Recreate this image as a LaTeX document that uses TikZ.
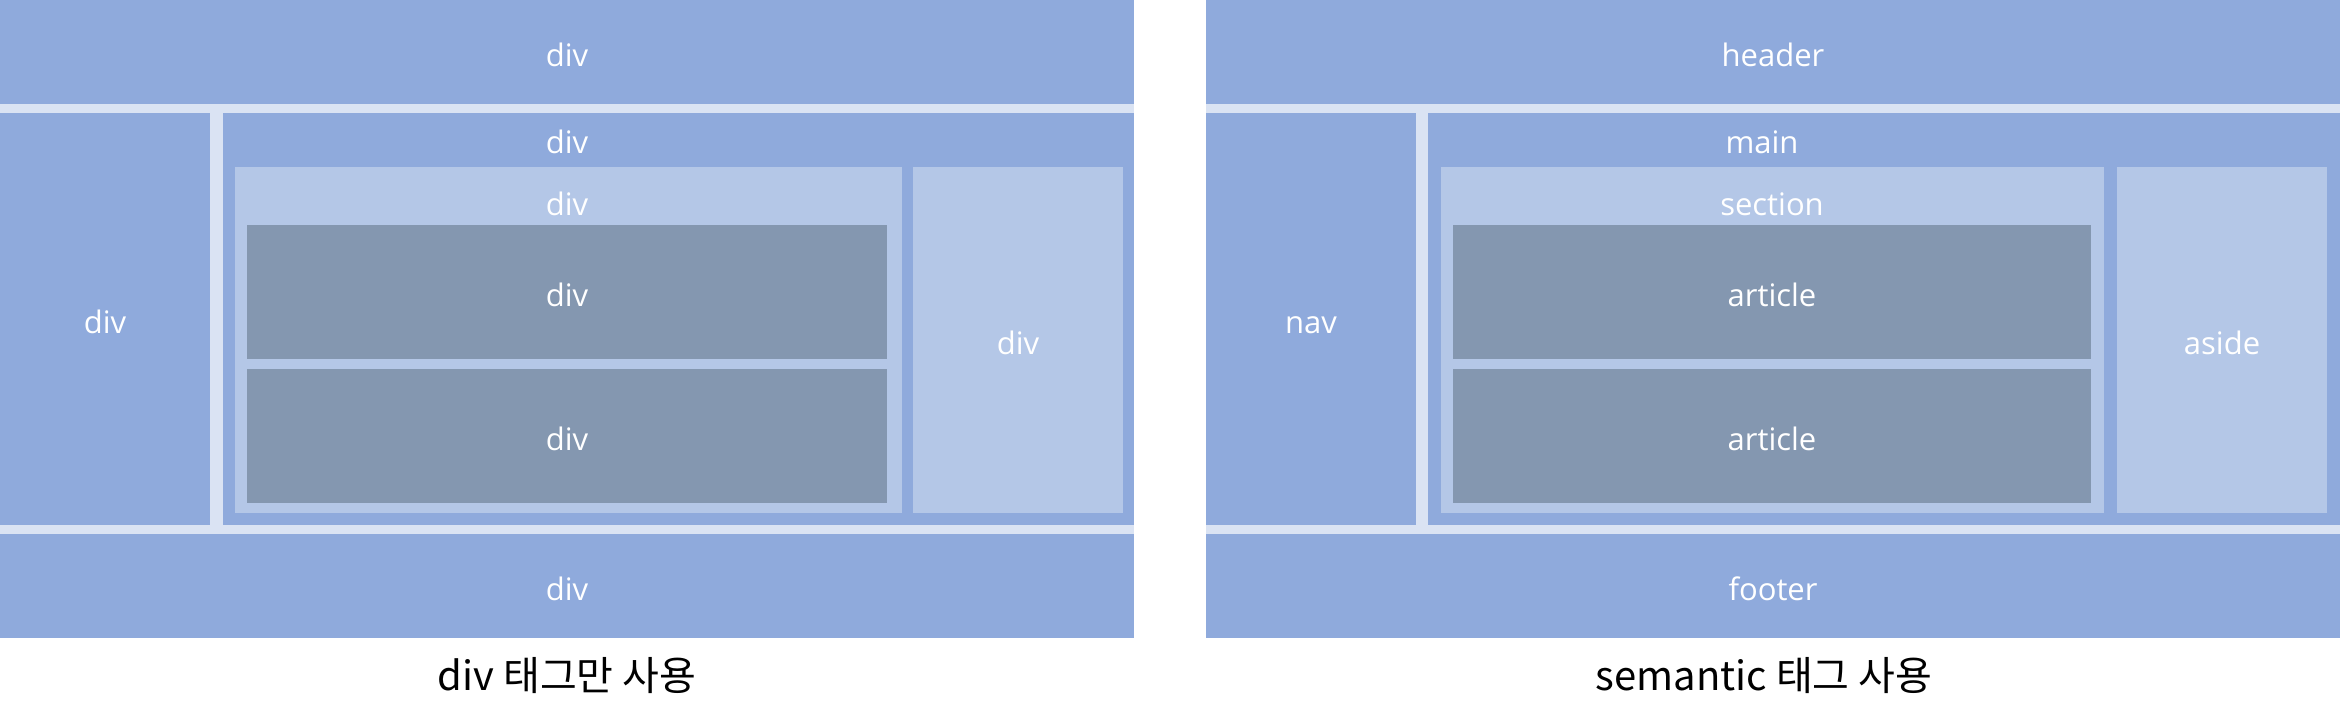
\documentclass[tikz,border=0pt]{standalone}
\usepackage{fontspec}
\setmainfont{Open Sans}
\newfontfamily\krfont{Noto Sans CJK KR}
\usetikzlibrary{positioning}
\definecolor{boxblue}{HTML}{8FAADC}
\definecolor{gapblue}{HTML}{DAE3F3}
\definecolor{paleblue}{HTML}{B4C7E7}
\definecolor{slate}{HTML}{8497B0}

\begin{document}
\begin{tikzpicture}[
  x=1pt, y=-1pt,
  size/.style 2 args={minimum width=#1pt, minimum height=#2pt},
  block/.style={rectangle, anchor=north west, inner sep=0pt, outer sep=0pt,
                fill=boxblue, text=white, font=\fontsize{31}{36}\selectfont,
                text height=28pt, text depth=0pt},
  inner/.style={block, fill=paleblue},
  item/.style={block, fill=slate},
  tag/.style={inner sep=0pt, text=white, font=\fontsize{31}{36}\selectfont,
              text height=28pt, text depth=0pt},
  caption/.style={anchor=base, inner sep=0pt, font=\krfont\fontsize{40}{44}\selectfont}
]
  \useasboundingbox (0,0) rectangle (2340,723);

  % div only
  \fill[gapblue] (0,0) rectangle (1134,638);
  \node[block, size={1134}{104}] (Lheader) at (0,0) {div};
  \node[block, size={210}{412}] (Lnav) at (0,113) {div};
  \node[block, size={911}{412}] (Lmain) at (223,113) {};
  \node[inner, size={667}{346}] (Lsection) at (235,167) {};
  \node[item, size={640}{134}] (Larticle1) at (247,225) {div};
  \node[item, size={640}{134}] (Larticle2) at (247,369) {div};
  \node[inner, size={210}{346}] (Laside) at (913,167) {div};
  \node[block, size={1134}{104}] (Lfooter) at (0,534) {div};
  \node[tag] (Lmaintag) at (567,139) {div};
  \node[tag] (Lsectiontag) at (567,201) {div};
  \node[caption] (Lcaption) at (567,690) {div 태그만 사용};

  % semantic tags
  \begin{scope}[xshift=1206pt]
    \fill[gapblue] (0,0) rectangle (1134,638);
    \node[block, size={1134}{104}] (Rheader) at (0,0) {header};
    \node[block, size={210}{412}] (Rnav) at (0,113) {nav};
    \node[block, size={912}{412}] (Rmain) at (222,113) {};
    \node[inner, size={663}{346}] (Rsection) at (235,167) {};
    \node[item, size={638}{134}] (Rarticle1) at (247,225) {article};
    \node[item, size={638}{134}] (Rarticle2) at (247,369) {article};
    \node[inner, size={210}{346}] (Raside) at (911,167) {aside};
    \node[block, size={1134}{104}] (Rfooter) at (0,534) {footer};
    \node[tag] (Rmaintag) at (556,139) {main};
    \node[tag] (Rsectiontag) at (566,201) {section};
    \node[caption] (Rcaption) at (558,690) {semantic 태그 사용};
  \end{scope}
\end{tikzpicture}
\end{document}
